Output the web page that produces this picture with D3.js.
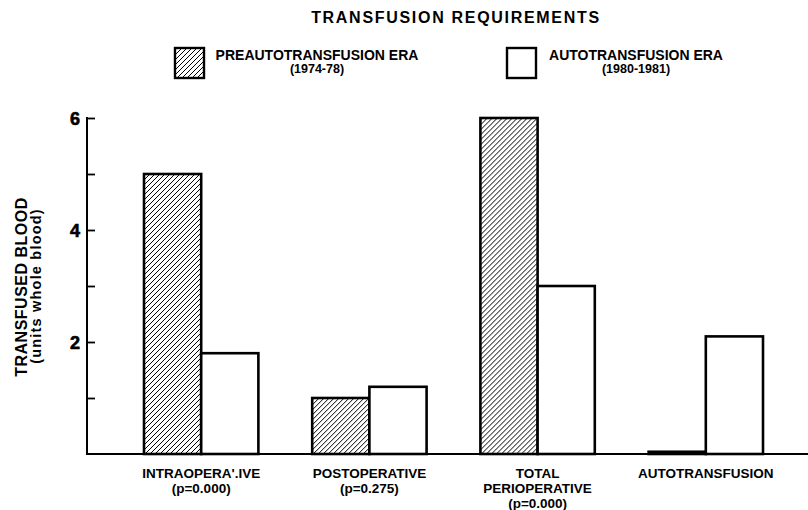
<!DOCTYPE html>
<html>
<head>
<meta charset="utf-8">
<script src="https://cdn.jsdelivr.net/npm/d3@7"></script>
<style>
  body { margin: 0; background: #fff; }
  svg { font-family: "Liberation Sans", Arial, sans-serif; font-weight: bold; }
</style>
</head>
<body>
<svg id="chart" width="808" height="510"></svg>
<script>
(function () {
  'use strict';

  // categories and their labels (one row per text line)
  var categories = ['intra', 'post', 'total', 'auto'];
  var categoryLabels = [
    ['INTRAOPERA\'.IVE', '(p=0.000)'],
    ['POSTOPERATIVE', '(p=0.275)'],
    ['TOTAL', 'PERIOPERATIVE', '(p=0.000)'],
    ['AUTOTRANSFUSION']
  ];
  var seriesNames = ['pre', 'auto'];
  var preValues = [5.0, 1.0, 6.0, 0.04];
  var autoValues = [1.8, 1.2, 3.0, 2.1];
  var yTicks = [1, 2, 3, 4, 5, 6];
  var yTickLabels = [2, 4, 6];

  var svg = d3.select('#chart');

  // hatch pattern for the pre-autotransfusion bars
  var defs = svg.append('defs');
  defs.append('pattern')
      .attr('id', 'hatch')
      .attr('patternUnits', 'userSpaceOnUse')
      .attr('width', 5)
      .attr('height', 5)
    .append('path')
      .attr('d', 'M-1,1 L1,-1 M0,5 L5,0 M4,6 L6,4')
      .attr('stroke', '#000')
      .attr('stroke-width', 1);

  var x0 = d3.scaleBand()
      .domain(categories)
      .range([144, 763])
      .paddingInner(0.32);

  var x1 = d3.scaleBand()
      .domain(seriesNames)
      .range([0, x0.bandwidth()]);

  var y = d3.scaleLinear()
      .domain([0, 6])
      .range([454, 118]);

  // title
  svg.append('text')
      .attr('x', 456)
      .attr('y', 23)
      .attr('text-anchor', 'middle')
      .style('font-size', '16px')
      .style('letter-spacing', '1.7px')
      .text('TRANSFUSION REQUIREMENTS');

  // legend
  var legend = [
    {fill: 'url(#hatch)', x: 175, cx: 317, lines: ['PREAUTOTRANSFUSION ERA', '(1974-78)']},
    {fill: '#fff', x: 507, cx: 636, lines: ['AUTOTRANSFUSION ERA', '(1980-1981)']}
  ];
  var lg = svg.selectAll('.legend')
      .data(legend)
    .enter().append('g')
      .attr('class', 'legend');
  lg.append('rect')
      .attr('x', function (d) { return d.x; })
      .attr('y', 48)
      .attr('width', 29)
      .attr('height', 30)
      .attr('fill', function (d) { return d.fill; })
      .attr('stroke', '#000')
      .attr('stroke-width', 2.4);
  lg.each(function (d) {
    var g = d3.select(this);
    d.lines.forEach(function (t, i) {
      g.append('text')
          .attr('x', d.cx)
          .attr('y', 60 + i * 13)
          .attr('text-anchor', 'middle')
          .style('font-size', i === 0 ? '14px' : '12.5px')
          .text(t);
    });
  });

  // bars
  var groups = svg.selectAll('.group')
      .data(categories)
    .enter().append('g')
      .attr('class', 'group')
      .attr('transform', function (d) { return 'translate(' + x0(d) + ',0)'; });

  groups.selectAll('rect')
      .data(function (d, i) {
        return [
          {key: 'pre', value: preValues[i]},
          {key: 'auto', value: autoValues[i]}
        ];
      })
    .enter().append('rect')
      .attr('x', function (d) { return x1(d.key); })
      .attr('y', function (d) { return y(d.value); })
      .attr('width', x1.bandwidth())
      .attr('height', function (d) { return y(0) - y(d.value); })
      .attr('fill', function (d) { return d.key === 'pre' ? 'url(#hatch)' : '#fff'; })
      .attr('stroke', '#000')
      .attr('stroke-width', 2.6);

  // y axis
  var yAxis = d3.axisRight(y)
      .tickValues(yTicks)
      .tickSize(8)
      .tickFormat('');
  var ya = svg.append('g')
      .attr('class', 'y axis')
      .attr('transform', 'translate(87,0)')
      .call(yAxis);
  ya.select('.domain').remove();
  ya.selectAll('.tick line').attr('stroke', '#000').attr('stroke-width', 1.8);
  ya.append('line')
      .attr('x1', 0).attr('x2', 0)
      .attr('y1', y(0)).attr('y2', y(6) - 1)
      .attr('stroke', '#000')
      .attr('stroke-width', 2);

  svg.selectAll('.ytl')
      .data(yTickLabels)
    .enter().append('text')
      .attr('class', 'ytl')
      .attr('x', 80)
      .attr('y', function (d) { return y(d) + 7; })
      .attr('text-anchor', 'end')
      .attr('stroke', '#000')
      .attr('stroke-width', 0.6)
      .style('font-size', '18px')
      .text(function (d) { return d; });

  // baseline
  svg.append('line')
      .attr('x1', 86).attr('x2', 808)
      .attr('y1', y(0)).attr('y2', y(0))
      .attr('stroke', '#000')
      .attr('stroke-width', 2.2);

  // y axis title
  svg.append('text')
      .attr('transform', 'translate(27,287) rotate(-90)')
      .attr('text-anchor', 'middle')
      .style('font-size', '16px')
      .style('letter-spacing', '0.5px')
      .text('TRANSFUSED BLOOD');
  svg.append('text')
      .attr('transform', 'translate(41,286) rotate(-90)')
      .attr('text-anchor', 'middle')
      .style('font-size', '14.5px')
      .style('letter-spacing', '1.2px')
      .text('(units whole blood)');

  // category labels, centred under each bar group
  var xl = svg.selectAll('.xlabel')
      .data(categories)
    .enter().append('text')
      .attr('class', 'xlabel')
      .attr('text-anchor', 'middle')
      .style('font-size', '13.5px');
  xl.each(function (d, i) {
    var t = d3.select(this);
    var cx = x0(d) + x0.bandwidth() / 2;
    categoryLabels[i].forEach(function (line, j) {
      t.append('tspan')
          .attr('x', cx)
          .attr('y', 478 + j * 14.8)
          .text(line);
    });
  });
})();
</script>
</body>
</html>
